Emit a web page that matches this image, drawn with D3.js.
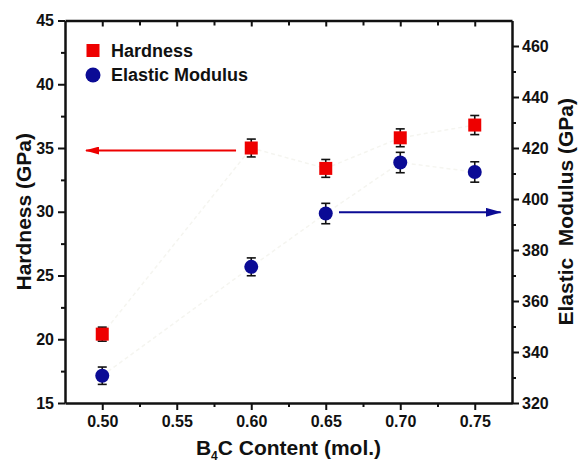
<!DOCTYPE html>
<html>
<head>
<meta charset="utf-8">
<script src="https://cdn.jsdelivr.net/npm/d3@7"></script>
<style>
  body { margin: 0; background: #fff; }
  text { font-family: "Liberation Sans", Arial, sans-serif; font-weight: bold; fill: #111; }
  .axis path, .axis line { stroke: #111; }
</style>
</head>
<body>
<div id="chart"></div>
<script>
// B4C content (mol.)
var content = [0.50, 0.60, 0.65, 0.70, 0.75];
var hardness = [20.4, 35.0, 33.4, 35.8, 36.8];
var hardnessErr = [0.55, 0.7, 0.7, 0.7, 0.75];
var modulus = [330.7, 373.4, 394.3, 414.3, 410.6];
var modulusErr = [3.4, 3.5, 4, 4, 4];

var xTicks = [0.50, 0.55, 0.60, 0.65, 0.70, 0.75],
  xMinor = [0.525, 0.575, 0.625, 0.675, 0.725],
  leftTicks = [15, 20, 25, 30, 35, 40, 45],
  leftMinor = [17.5, 22.5, 27.5, 32.5, 37.5, 42.5],
  rightTicks = [320, 340, 360, 380, 400, 420, 440, 460],
  rightMinor = [330, 350, 370, 390, 410, 430, 450];

var width = 579, height = 463,
  margin = {left: 65, right: 67, top: 20.5, bottom: 60},
  svg = d3.select("#chart").append("svg")
    .attr("width", width)
    .attr("height", height);

var x = d3.scaleLinear().domain([0.475, 0.775]).range([margin.left, width - margin.right]),
  yL = d3.scaleLinear().domain([15, 45]).range([height - margin.bottom, margin.top]),
  yR = d3.scaleLinear().domain([320, 470]).range([height - margin.bottom, margin.top]);

var red = "#ee0000", blue = "#0b0b95";

// faint traces between points (barely visible in the original)
var trace = svg.append("g").attr("fill", "none").attr("stroke", "#f5f5f0")
  .attr("stroke-width", 1.5).attr("stroke-dasharray", "4,3");
trace.append("path").attr("d", d3.line()
  .x(function (d, i) { return x(content[i]); })
  .y(function (d) { return yL(d); })(hardness));
trace.append("path").attr("d", d3.line()
  .x(function (d, i) { return x(content[i]); })
  .y(function (d) { return yR(d); })(modulus));

// axes
function styleAxis(g) {
  g.attr("class", "axis");
  g.select(".domain").attr("stroke-width", 2.5);
  g.selectAll(".tick line").attr("stroke-width", 2);
  g.selectAll("text").style("font-size", "16px");
}
function minorTicks(g) {
  g.select(".domain").remove();
  g.selectAll("line").attr("stroke", "#111").attr("stroke-width", 2);
}

var bottomAxis = svg.append("g").attr("transform", "translate(0," + yL.range()[0] + ")");
bottomAxis.call(d3.axisBottom(x).tickValues(xTicks).tickFormat(d3.format(".2f")).tickSize(7).tickSizeOuter(0).tickPadding(6));
styleAxis(bottomAxis);
svg.append("g").attr("transform", "translate(0," + yL.range()[0] + ")")
  .call(d3.axisBottom(x).tickValues(xMinor).tickSize(4).tickFormat(""))
  .call(minorTicks);

var topAxis = svg.append("g").attr("transform", "translate(0," + margin.top + ")");
topAxis.call(d3.axisBottom(x).tickValues(xTicks).tickSize(6).tickSizeOuter(0).tickFormat(""));
styleAxis(topAxis);
svg.append("g").attr("transform", "translate(0," + margin.top + ")")
  .call(d3.axisBottom(x).tickValues(xMinor).tickSize(5).tickFormat(""))
  .call(minorTicks);

var leftAxis = svg.append("g").attr("transform", "translate(" + margin.left + ",0)");
leftAxis.call(d3.axisLeft(yL).tickValues(leftTicks).tickSize(7).tickSizeOuter(0).tickPadding(4));
styleAxis(leftAxis);
svg.append("g").attr("transform", "translate(" + margin.left + ",0)")
  .call(d3.axisLeft(yL).tickValues(leftMinor).tickSize(4).tickFormat(""))
  .call(minorTicks);

var rightAxis = svg.append("g").attr("transform", "translate(" + x.range()[1] + ",0)");
rightAxis.call(d3.axisRight(yR).tickValues(rightTicks).tickSize(7).tickSizeOuter(0).tickPadding(3));
styleAxis(rightAxis);
svg.append("g").attr("transform", "translate(" + x.range()[1] + ",0)")
  .call(d3.axisRight(yR).tickValues(rightMinor).tickSize(4).tickFormat(""))
  .call(minorTicks);

// axis titles
svg.append("text")
  .attr("transform", "translate(31," + (yL.range()[0] + yL.range()[1]) / 2 + ") rotate(-90)")
  .attr("text-anchor", "middle").style("font-size", "21px")
  .text("Hardness (GPa)");
svg.append("text")
  .attr("transform", "translate(573," + (yL.range()[0] + yL.range()[1]) / 2 + ") rotate(-90)")
  .attr("text-anchor", "middle").style("font-size", "21px")
  .style("white-space", "pre")
  .text("Elastic  Modulus (GPa)");
var xt = svg.append("text")
  .attr("x", (x.range()[0] + x.range()[1]) / 2).attr("y", 455)
  .attr("text-anchor", "middle").style("font-size", "21px");
xt.append("tspan").text("B");
xt.append("tspan").attr("dy", 5).style("font-size", "12px").text("4");
xt.append("tspan").attr("dy", -5).text("C Content (mol.)");

// arrows
var defs = svg.append("defs");
function marker(id, color, len, half) {
  defs.append("marker").attr("id", id)
    .attr("viewBox", "0 0 " + len + " " + (2 * half)).attr("refX", len - 1).attr("refY", half)
    .attr("markerWidth", len).attr("markerHeight", 2 * half).attr("orient", "auto")
    .attr("markerUnits", "userSpaceOnUse")
    .append("path").attr("d", "M0,0L" + len + "," + half + "L0," + (2 * half) + "z").attr("fill", color);
}
marker("headRed", red, 14, 4);
marker("headBlue", blue, 16, 4.5);
svg.append("line")
  .attr("x1", x(0.5898)).attr("x2", x(0.4891))
  .attr("y1", yL(34.8)).attr("y2", yL(34.8))
  .attr("stroke", red).attr("stroke-width", 2).attr("marker-end", "url(#headRed)");
svg.append("line")
  .attr("x1", x(0.6589)).attr("x2", x(0.7674))
  .attr("y1", yR(394.8)).attr("y2", yR(394.8))
  .attr("stroke", blue).attr("stroke-width", 2).attr("marker-end", "url(#headBlue)");

// error bars
function errorBars(vals, errs, y) {
  var g = svg.append("g").attr("stroke", "#111").attr("stroke-width", 1.6);
  vals.forEach(function (v, i) {
    var cx = x(content[i]);
    g.append("line").attr("x1", cx).attr("x2", cx).attr("y1", y(v - errs[i])).attr("y2", y(v + errs[i]));
    g.append("line").attr("x1", cx - 4.5).attr("x2", cx + 4.5).attr("y1", y(v - errs[i])).attr("y2", y(v - errs[i]));
    g.append("line").attr("x1", cx - 4.5).attr("x2", cx + 4.5).attr("y1", y(v + errs[i])).attr("y2", y(v + errs[i]));
  });
}
errorBars(hardness, hardnessErr, yL);
errorBars(modulus, modulusErr, yR);

// markers
svg.selectAll("rect.h").data(hardness).enter().append("rect")
  .attr("class", "h")
  .attr("x", function (d, i) { return x(content[i]) - 6.5; })
  .attr("y", function (d) { return yL(d) - 6.5; })
  .attr("width", 13).attr("height", 13)
  .attr("fill", red);
svg.selectAll("circle.m").data(modulus).enter().append("circle")
  .attr("class", "m")
  .attr("cx", function (d, i) { return x(content[i]); })
  .attr("cy", function (d) { return yR(d); })
  .attr("r", 7)
  .attr("fill", blue);

// legend
var legend = svg.append("g");
legend.append("rect").attr("x", 86.5).attr("y", 44).attr("width", 13).attr("height", 13).attr("fill", red);
legend.append("text").attr("x", 111).attr("y", 57).style("font-size", "18px").text("Hardness");
legend.append("circle").attr("cx", 93).attr("cy", 75).attr("r", 7.5).attr("fill", blue);
legend.append("text").attr("x", 111).attr("y", 81).style("font-size", "18px").text("Elastic Modulus");
</script>
</body>
</html>
